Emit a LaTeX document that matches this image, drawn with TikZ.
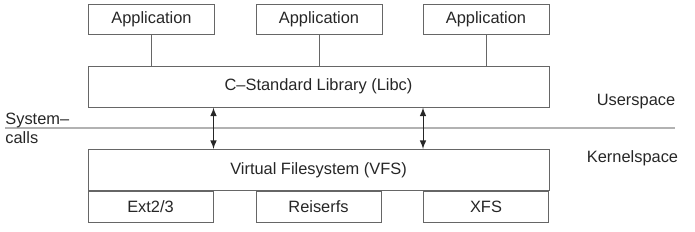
\documentclass[tikz,border=0pt]{standalone}
\usepackage{fontspec}
\setmainfont{Liberation Sans}
\usetikzlibrary{positioning}

\tikzset{
  kasten/.style={draw=black!60, line width=0.5pt, inner sep=0pt,
    minimum height=15pt, text=black!85},
  app/.style={kasten, minimum width=63pt},
  schicht/.style={kasten, minimum width=230.5pt, minimum height=20.5pt},
  fs/.style={kasten, minimum width=62.5pt, minimum height=15.5pt},
}

\begin{document}
\begin{tikzpicture}[x=0.5pt, y=0.5pt, >=latex, font=\fontsize{8.2}{9.5}\selectfont]

              \useasboundingbox (0,0) rectangle (695,231);

              % Anwendungen
              \node[app] (app1) at (151.5,212) {Application};
              \node[app] (app2) at (319,212) {Application};
              \node[app] (app3) at (486,212) {Application};

              % Bibliothek
              \node[schicht] (libc) at (318.5,144.5) {C--Standard Library (Libc)};

              % Trennlinie User/Kernel
              \coordinate (links) at (5,103);
              \coordinate (rechts) at (675,103);
              \draw[black!30, line width=1pt] (links) -- (rechts);

              % VFS und Dateisysteme
              \node[schicht] (vfs) at (318.5,61) {Virtual Filesystem (VFS)};
              \node[fs] (ext) at (150.5,24.5) {Ext2/3};
              \node[fs] (reiser) at (318.5,24.5) {Reiserfs};
              \node[fs] (xfs) at (486,24.5) {XFS};

              % Verbindungen
              \foreach \a in {app1,app2,app3} {
                      \draw[black!60, line width=0.5pt] (\a.south) -- (\a.south |- libc.north);
                  }
              \draw[<->, black!85, line width=0.5pt] (libc.south -| ext.east) -- (vfs.north -| ext.east);
              \draw[<->, black!85, line width=0.5pt] (libc.south -| xfs.west) -- (vfs.north -| xfs.west);

              % Beschriftung
              \node[anchor=west, align=left, inner sep=0pt, text=black!85] (sys) at (links) {System--\\calls};
              \node[text=black!85] (user) at (636,129) {Userspace};
              \node[text=black!85] (kernel) at (632.5,73) {Kernelspace};

          \end{tikzpicture}
\end{document}
